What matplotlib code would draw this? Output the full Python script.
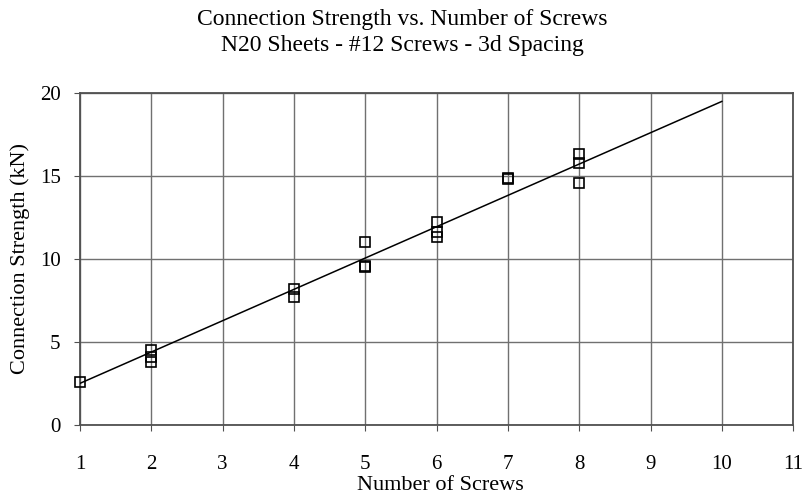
import matplotlib
matplotlib.use("Agg")
import matplotlib.pyplot as plt

plt.rcParams['font.family'] = ['Liberation Serif', 'DejaVu Serif']

# test data
screws = [1, 2, 2, 2, 4, 4, 5, 5, 5, 6, 6, 6, 7, 7, 8, 8, 8]
strength = [2.6, 4.5, 4.1, 3.8, 8.2, 7.7, 11.0, 9.6, 9.5,
            12.2, 11.6, 11.3, 14.8, 14.9, 16.3, 15.8, 14.6]

# linear trend line end points
fit_x = [1, 10]
fit_y = [2.5, 19.5]

x_ticks = list(range(1, 12))
y_ticks = [0, 5, 10, 15, 20]

fig = plt.figure(figsize=(8.04, 4.98), dpi=100)
ax = fig.add_axes([0.0995, 0.147, 0.887, 0.666])

ax.plot(fit_x, fit_y, color='black', linewidth=1.1, zorder=3)
ax.plot(screws, strength, linestyle='none', marker='s', markersize=7.5,
        markerfacecolor='none', markeredgecolor='black', markeredgewidth=1.2,
        zorder=4, clip_on=False)

ax.set_xlim(1, 11)
ax.set_ylim(0, 20)
ax.set_xticks(x_ticks)
ax.set_yticks(y_ticks)
ax.grid(True, color='#707070', linewidth=1.0)
ax.set_axisbelow(True)
for s in ax.spines.values():
    s.set_color('#505050')
    s.set_linewidth(1.3)
ax.tick_params(direction='out', length=4, color='#505050', labelsize=15)
ax.tick_params(axis='x', pad=18)
ax.tick_params(axis='y', pad=10)

ax.set_xlabel("Number of Screws", fontsize=16, va='baseline')
ax.xaxis.set_label_coords(0.505, -0.196)
ax.set_ylabel("Connection Strength (kN)", fontsize=16, labelpad=7)
fig.text(0.5, 0.95, "Connection Strength vs. Number of Screws", ha='center', va='baseline', fontsize=17)
fig.text(0.5, 0.898, "N20 Sheets - #12 Screws - 3d Spacing", ha='center', va='baseline', fontsize=17)

fig.savefig("out.png", dpi=100)
